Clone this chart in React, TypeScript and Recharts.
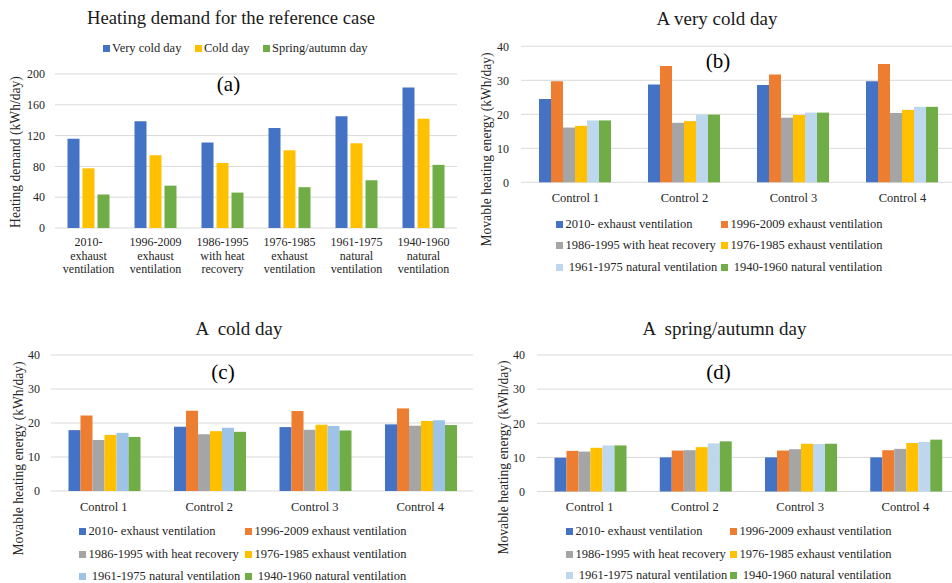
import React from "react";
import { BarChart, Bar, XAxis, YAxis, CartesianGrid, Legend } from "recharts";

const FONT = '"Liberation Serif", "Times New Roman", serif';
const GRID = "#D9D9D9";
const TEXT = "#262626";

// (a) heating demand
const buildingTypes = [
  "2010-\nexhaust\nventilation",
  "1996-2009\nexhaust\nventilation",
  "1986-1995\nwith heat\nrecovery",
  "1976-1985\nexhaust\nventilation",
  "1961-1975\nnatural\nventilation",
  "1940-1960\nnatural\nventilation",
];
const veryColdDemand = [116, 138.5, 111, 130, 145, 182.5];
const coldDemand = [77.5, 94.5, 84.5, 101, 110, 142];
const springDemand = [43.5, 55, 46, 53, 62, 82];
const demandTicks = [0, 40, 80, 120, 160, 200];
const demandNames = ["Very cold day", "Cold day", "Spring/autumn day"];
const demandColors = ["#4472C4", "#FFC000", "#70AD47"];

// (b)-(d) movable heating energy
const controls = ["Control 1", "Control 2", "Control 3", "Control 4"];
const seriesNames = [
  "2010- exhaust ventilation",
  "1996-2009 exhaust ventilation",
  "1986-1995 with heat recovery",
  "1976-1985 exhaust ventilation",
  " 1961-1975 natural ventilation",
  " 1940-1960 natural ventilation",
];
const energyTicks = [0, 10, 20, 30, 40];
const paleColors = ["#4472C4", "#ED7D31", "#A5A5A5", "#FFC000", "#BDD7EE", "#70AD47"];
const coldColors = ["#4472C4", "#ED7D31", "#A5A5A5", "#FFC000", "#9DC3E6", "#70AD47"];

// one row per building type, one value per control
const veryColdEnergy = [
  [24.5, 28.8, 28.6, 29.7],
  [29.7, 34.2, 31.7, 34.8],
  [16.1, 17.5, 19.0, 20.4],
  [16.6, 18.0, 19.8, 21.3],
  [18.2, 19.9, 20.5, 22.2],
  [18.2, 19.9, 20.5, 22.2],
];
const coldEnergy = [
  [17.9, 18.9, 18.8, 19.6],
  [22.2, 23.6, 23.5, 24.3],
  [15.0, 16.7, 18.0, 19.2],
  [16.5, 17.6, 19.5, 20.6],
  [17.1, 18.6, 19.1, 20.8],
  [15.9, 17.4, 17.8, 19.4],
];
const springEnergy = [
  [9.9, 10.0, 10.0, 10.0],
  [11.9, 12.0, 12.0, 12.1],
  [11.7, 12.1, 12.4, 12.5],
  [12.8, 13.0, 14.0, 14.2],
  [13.5, 14.1, 13.9, 14.5],
  [13.5, 14.7, 14.0, 15.2],
];

const legendContent =
  (keys: string[], cols: number[], rows: number[], sq: number) => (props: any) => {
    const items = [...(props.payload || [])].sort(
      (a: any, b: any) => keys.indexOf(a.dataKey) - keys.indexOf(b.dataKey)
    );
    return (
      <div style={{ position: "relative" }}>
        {items.map((it: any, i: number) => (
          <div
            key={i}
            style={{
              position: "absolute",
              left: cols[i % cols.length],
              top: rows[Math.floor(i / cols.length)] - 8,
              height: 16,
              display: "flex",
              alignItems: "center",
              whiteSpace: "pre",
              fontFamily: FONT,
              fontSize: 12.5,
              color: TEXT,
            }}
          >
            <span style={{ width: sq, height: sq, background: it.color, marginRight: 2.5 }} />
            <span>{it.value}</span>
          </div>
        ))}
      </div>
    );
  };

const MultiLineTick = (props: any) => {
  const { x, y, payload } = props;
  const lines = String(payload.value).split("\n");
  return (
    <text x={x} y={y} textAnchor="middle" fontFamily={FONT} fontSize={12} fill={TEXT}>
      {lines.map((l, i) => (
        <tspan key={i} x={x} y={y + 10 + i * 13.5}>
          {l}
        </tspan>
      ))}
    </text>
  );
};

const rotated = (x: number, y: number, s: string) => (
  <text
    x={x}
    y={y}
    transform={`rotate(-90 ${x} ${y})`}
    textAnchor="middle"
    dominantBaseline="central"
    fontFamily={FONT}
    fontSize={13.6}
    fill={TEXT}
  >
    {s}
  </text>
);

function DemandPanel() {
  const data = buildingTypes.map((b, i) => ({
    name: b,
    veryCold: veryColdDemand[i],
    cold: coldDemand[i],
    spring: springDemand[i],
  }));
  const keys = ["veryCold", "cold", "spring"];
  return (
    <div style={{ position: "absolute", left: 0, top: 0 }}>
      <BarChart
        width={476}
        height={290}
        data={data}
        margin={{ top: 74, right: 19, left: 0, bottom: 12 }}
        barCategoryGap={12.5}
        barGap={3}
      >
        <CartesianGrid vertical={false} stroke={GRID} />
        <XAxis
          dataKey="name"
          height={50}
          axisLine={false}
          tickLine={false}
          interval={0}
          tick={<MultiLineTick />}
        />
        <YAxis
          width={55}
          domain={[0, 200]}
          ticks={demandTicks}
          axisLine={false}
          tickLine={false}
          tickMargin={4}
          tick={{ fontFamily: FONT, fontSize: 12, fill: TEXT }}
        />
        {keys.map((k, i) => (
          <Bar key={k} dataKey={k} name={demandNames[i]} fill={demandColors[i]} isAnimationActive={false} />
        ))}
        <Legend
          layout="vertical"
          align="center"
          verticalAlign="middle"
          wrapperStyle={{ left: 0, top: 0, width: 476, height: 290 }}
          content={legendContent(keys, [103, 195, 263], [48.5], 6.5)}
        />
        <text x={231} y={24} textAnchor="middle" fontFamily={FONT} fontSize={18.7} fill="#1a1a1a">
          Heating demand for the reference case
        </text>
        <text x={228.5} y={91} textAnchor="middle" fontFamily={FONT} fontSize={21} fill="#000">
          (a)
        </text>
        {rotated(15, 152, "Heating demand (kWh/day)")}
      </BarChart>
    </div>
  );
}

type EnergyProps = {
  left: number;
  top: number;
  width: number;
  height: number;
  plotLeft: number;
  plotRight: number;
  plotTop: number;
  plotBottom: number;
  tickRight: number;
  gap: number;
  values: number[][];
  colors: string[];
  title: string;
  titleX: number;
  letter: string;
  letterX: number;
  letterY: number;
  yLabelX: number;
  yLabelY: number;
  legendCols: number[];
  legendRows: number[];
};

function EnergyPanel(p: EnergyProps) {
  const keys = seriesNames.map((_, i) => `s${i}`);
  const data = controls.map((c, j) => {
    const row: any = { name: c };
    p.values.forEach((series, i) => (row[keys[i]] = series[j]));
    return row;
  });
  return (
    <div style={{ position: "absolute", left: p.left, top: p.top }}>
      <BarChart
        width={p.width}
        height={p.height}
        data={data}
        margin={{
          top: p.plotTop,
          right: p.width - p.plotRight,
          left: 0,
          bottom: p.height - p.plotBottom - 30,
        }}
        barCategoryGap={p.gap}
        barGap={0}
      >
        <CartesianGrid vertical={false} stroke={GRID} />
        <XAxis
          dataKey="name"
          height={30}
          axisLine={false}
          tickLine={false}
          tickMargin={5}
          interval={0}
          tick={{ fontFamily: FONT, fontSize: 12.5, fill: TEXT }}
        />
        <YAxis
          width={p.plotLeft}
          domain={[0, 40]}
          ticks={energyTicks}
          axisLine={false}
          tickLine={false}
          tickMargin={p.plotLeft - 6 - p.tickRight}
          tick={{ fontFamily: FONT, fontSize: 12, fill: TEXT }}
        />
        {keys.map((k, i) => (
          <Bar key={k} dataKey={k} name={seriesNames[i]} fill={p.colors[i]} isAnimationActive={false} />
        ))}
        <Legend
          layout="vertical"
          align="center"
          verticalAlign="middle"
          wrapperStyle={{ left: 0, top: 0, width: p.width, height: p.height }}
          content={legendContent(keys, p.legendCols, p.legendRows, 7)}
        />
        <text
          x={p.titleX}
          y={24.5}
          textAnchor="middle"
          fontFamily={FONT}
          fontSize={19}
          fill="#1a1a1a"
          style={{ whiteSpace: "pre" }}
        >
          {p.title}
        </text>
        <text x={p.letterX} y={p.letterY} textAnchor="middle" fontFamily={FONT} fontSize={21} fill="#000">
          {p.letter}
        </text>
        {rotated(p.yLabelX, p.yLabelY, "Movable heating energy (kWh/day)")}
      </BarChart>
    </div>
  );
}

export default function App() {
  return (
    <div
      style={{
        position: "absolute",
        left: 0,
        top: 0,
        width: 952,
        height: 583,
        overflow: "hidden",
        background: "#fff",
      }}
    >
      <DemandPanel />
      <EnergyPanel
        left={476}
        top={0}
        width={490}
        height={300}
        plotLeft={45}
        plotRight={481}
        plotTop={46.3}
        plotBottom={182.3}
        tickRight={33}
        gap={18}
        values={veryColdEnergy}
        colors={paleColors}
        title="A very cold day"
        titleX={241}
        letter="(b)"
        letterX={242}
        letterY={68}
        yLabelX={10.5}
        yLabelY={149.5}
        legendCols={[80, 245]}
        legendRows={[224, 245.5, 267]}
      />
      <EnergyPanel
        left={0}
        top={310}
        width={476}
        height={273}
        plotLeft={51}
        plotRight={473}
        plotTop={45}
        plotBottom={181}
        tickRight={40}
        gap={17.5}
        values={coldEnergy}
        colors={coldColors}
        title="A  cold day"
        titleX={239}
        letter="(c)"
        letterX={223}
        letterY={69}
        yLabelX={18}
        yLabelY={148.5}
        legendCols={[79, 245]}
        legendRows={[221.7, 244, 266]}
      />
      <EnergyPanel
        left={476}
        top={310}
        width={490}
        height={273}
        plotLeft={61}
        plotRight={482}
        plotTop={45}
        plotBottom={181.5}
        tickRight={49}
        gap={17.5}
        values={springEnergy}
        colors={paleColors}
        title="A  spring/autumn day"
        titleX={248.5}
        letter="(d)"
        letterX={242.5}
        letterY={69}
        yLabelX={27}
        yLabelY={147.5}
        legendCols={[90, 254]}
        legendRows={[221.7, 244, 265.7]}
      />
    </div>
  );
}
